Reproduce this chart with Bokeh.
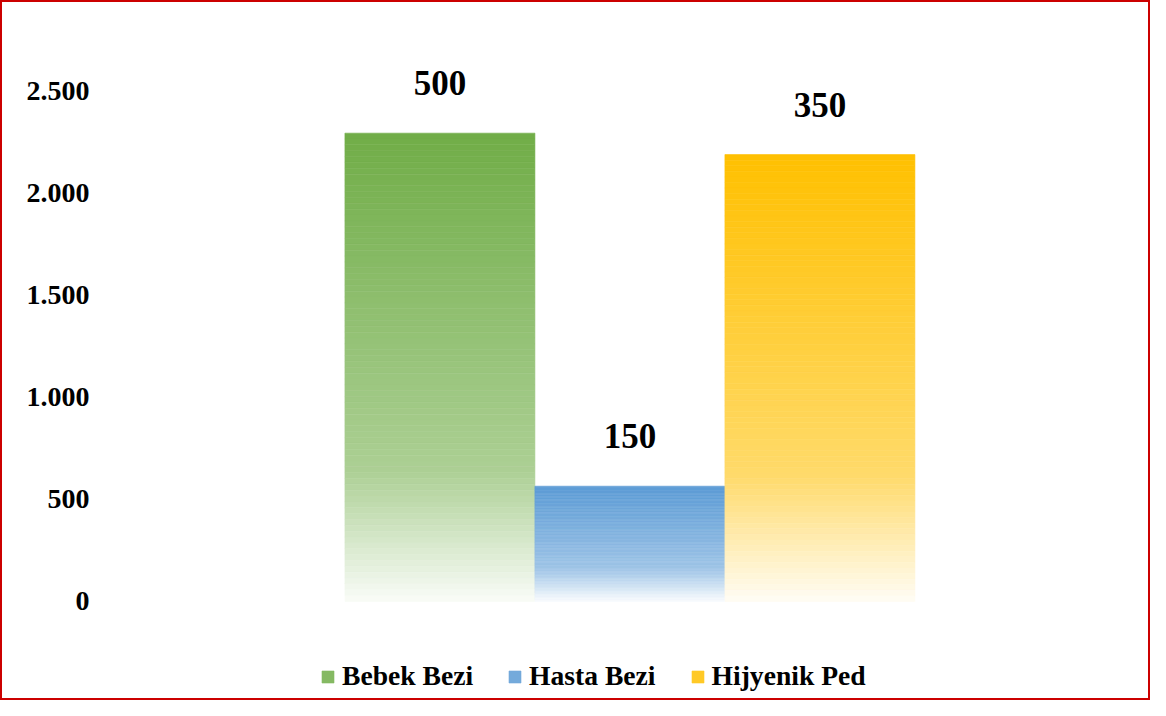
from bokeh.plotting import figure
from bokeh.models import ColumnDataSource, Range1d, FixedTicker, Legend, LegendItem
from bokeh.core.properties import value
from bokeh.embed import file_html
from bokeh.resources import INLINE

# ---- data ----
series = ["Bebek Bezi", "Hasta Bezi", "Hijyenik Ped"]
bar_values = [2295, 565, 2190]
bar_labels = ["500", "150", "350"]
colors = ["#70AD47", "#5B9BD5", "#FFC000"]
y_ticks = [0, 500, 1000, 1500, 2000, 2500]
y_tick_labels = ["0", "500", "1.000", "1.500", "2.000", "2.500"]

FONT = "Liberation Serif"
N = 80


def hex2rgb(h):
    h = h.lstrip("#")
    return tuple(int(h[i:i + 2], 16) for i in (0, 2, 4))


def mix(rgb, f):
    return tuple(c + (255 - c) * f for c in rgb)


def grad_color(base, t):
    # t = 0 at top of bar, 1 at bottom
    stops = [(0.0, 0.0), (0.72, 0.42), (1.0, 0.96)]
    for (t0, f0), (t1, f1) in zip(stops[:-1], stops[1:]):
        if t <= t1:
            f = f0 + (f1 - f0) * (t - t0) / (t1 - t0)
            break
    r, g, b = mix(hex2rgb(base), f)
    return "#%02x%02x%02x" % (int(round(r)), int(round(g)), int(round(b)))


# frame spans down to the canvas bottom so the legend area lies inside it
p = figure(width=1150, height=700, output_backend="svg", toolbar_location=None,
           x_range=Range1d(-2.797, 2.74), y_range=Range1d(-495, 2700),
           min_border_left=96, min_border_right=2, min_border_top=48,
           min_border_bottom=0)
p.styles = {"border": "2px solid #CC0000", "box-sizing": "border-box"}
p.outline_line_color = None
p.xgrid.grid_line_color = None
p.ygrid.grid_line_color = None
p.xaxis.visible = False

ya = p.yaxis[0]
ya.ticker = FixedTicker(ticks=y_ticks)
ya.major_label_overrides = {t: l for t, l in zip(y_ticks, y_tick_labels)}
ya.axis_line_color = None
ya.major_tick_line_color = None
ya.major_tick_out = 0
ya.major_tick_in = 0
ya.minor_tick_line_color = None
ya.major_label_text_font = FONT
ya.major_label_text_font_style = "bold"
ya.major_label_text_font_size = "28px"
ya.major_label_text_color = "black"
ya.major_label_standoff = 9

n = len(series)
items = []
for k, (name, v, c) in enumerate(zip(series, bar_values, colors)):
    center = k - (n - 1) / 2
    tops, bottoms, fills = [], [], []
    for i in range(N):
        # i = 0 is the top slice
        top = v * (N - i) / N
        bot = v * (N - i - 1) / N
        t = (i + 0.5) / N
        tops.append(top)
        bottoms.append(bot)
        fills.append(grad_color(c, t))
    src = ColumnDataSource(dict(left=[center - 0.5] * N, right=[center + 0.5] * N,
                                top=tops, bottom=bottoms, fill=fills))
    r = p.quad(left="left", right="right", top="top", bottom="bottom", source=src,
               fill_color="fill", line_color="fill", line_width=0.6)
    items.append(LegendItem(label=name, renderers=[r], index=int(N * 0.25)))

lab_src = ColumnDataSource(dict(x=[k - (n - 1) / 2 for k in range(n)], y=bar_values,
                                text=bar_labels))
p.text(x="x", y="y", text="text", source=lab_src, text_align="center",
       text_baseline="alphabetic", y_offset=-50, text_font=value(FONT),
       text_font_style="bold", text_font_size="35px", text_color="black")

legend = Legend(items=items, orientation="horizontal", location=(222, 10),
                padding=0, margin=0, spacing=34, label_standoff=7,
                glyph_width=15, glyph_height=15,
                border_line_color=None, background_fill_alpha=0)
legend.label_text_font = FONT
legend.label_text_font_style = "bold"
legend.label_text_font_size = "27.6px"
legend.label_text_color = "black"
p.add_layout(legend)

open("out.html", "w").write(file_html(p, INLINE))
